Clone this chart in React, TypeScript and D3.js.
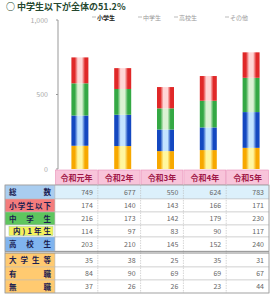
import { useMemo } from "react";
import * as d3 from "d3";

// data
const years = ["令和元年", "令和2年", "令和3年", "令和4年", "令和5年"];
const elementary = [174, 140, 143, 166, 171]; // 小学生以下
const junior = [216, 173, 142, 179, 230]; // 中学生
const juniorFirst = [114, 97, 83, 90, 117]; // 内)1年生
const high = [203, 210, 145, 152, 240]; // 高校生
const college = [35, 38, 25, 35, 31]; // 大学生等
const employed = [84, 90, 69, 69, 67]; // 有職
const unemployed = [37, 26, 26, 23, 44]; // 無職
const totals = [749, 677, 550, 624, 783]; // 総数
const yTicks = [0, 500, 1000];
const legendLabels = ["小学生", "中学生", "高校生", "その他"];

const W = 270;
const H = 303;
const FONT = "'Noto Sans CJK JP', 'Noto Sans', sans-serif";

type Row = { year: string; elem: number; junior: number; high: number; other: number };

const colors: Record<string, [string, string]> = {
  other: ["#f7a800", "#fff7a0"],
  high: ["#1448c0", "#c4e4ff"],
  junior: ["#34a844", "#dcf2d4"],
  elem: ["#e02828", "#ffd6d6"],
};

export default function App() {
  const rows: Row[] = useMemo(
    () =>
      years.map((y, i) => ({
        year: y,
        elem: elementary[i],
        junior: junior[i],
        high: high[i],
        other: college[i] + employed[i] + unemployed[i],
      })),
    []
  );

  const keys = ["other", "high", "junior", "elem"];
  const stacked = d3.stack<Row>().keys(keys)(rows);

  const yScale = d3.scaleLinear().domain([0, 1000]).range([169, 20]);
  const xBars = d3.scaleBand().domain(years).range([58.5, 272.5]);
  const barW = 17;
  const xCols = d3.scaleBand().domain(years).range([55, 269]);

  // table rows
  const tableRows = [
    { label: "総　数", values: totals, bg: "#a9cdf0", cell: "#dcf0fb", y0: 185, y1: 199 },
    { label: "小学生以下", values: elementary, bg: "#f47c7c", cell: "#fff", y0: 199, y1: 212 },
    { label: "中　学　生", values: junior, bg: "#5ec65e", cell: "#fff", y0: 212, y1: 225 },
    { label: "内)1年生", values: juniorFirst, bg: "#f4f25c", cell: "#fff", y0: 225, y1: 237, inset: true },
    { label: "高　校　生", values: high, bg: "#80b4ee", cell: "#fff", y0: 237, y1: 251 },
    { label: "大学生等", values: college, bg: "#ffca70", cell: "#fff", y0: 253, y1: 267 },
    { label: "有　　職", values: employed, bg: "#ffca70", cell: "#fff", y0: 267, y1: 280 },
    { label: "無　　職", values: unemployed, bg: "#ffca70", cell: "#fff", y0: 280, y1: 293 },
  ];
  const labelX0 = 5;
  const labelX1 = 55;
  const tableRight = 269;

  return (
    <div style={{ position: "absolute", left: 0, top: 0 }}>
      <svg width={W} height={H} style={{ display: "block", background: "#fff", fontFamily: FONT }}>
        <defs>
          {keys.map((k) => (
            <linearGradient key={k} id={"g-" + k} x1="0" x2="1" y1="0" y2="0">
              <stop offset="0" stopColor={colors[k][0]} />
              <stop offset="0.2" stopColor={colors[k][0]} />
              <stop offset="0.38" stopColor={colors[k][1]} />
              <stop offset="0.62" stopColor={colors[k][1]} />
              <stop offset="0.8" stopColor={colors[k][0]} />
              <stop offset="1" stopColor={colors[k][0]} />
            </linearGradient>
          ))}
        </defs>

        {/* title */}
        <text x={6} y={9.5} fontSize={9} fontWeight="bold" fill="#25472f">
          ○ 中学生以下が全体の51.2%
        </text>

        {/* legend */}
        {legendLabels.map((l, i) => {
          const lx = [92, 138, 174, 225][i];
          return (
            <g key={l}>
              <line x1={lx} x2={lx + 4} y1={17} y2={17} stroke="#aaa" strokeWidth={0.8} />
              <text x={lx + 5} y={19.5} fontSize={6} fill={i === 0 ? "#222" : "#999"} fontWeight={i === 0 ? "bold" : "normal"}>
                {l}
              </text>
            </g>
          );
        })}

        {/* y axis */}
        <line x1={58} x2={58} y1={yScale(1000)} y2={yScale(0)} stroke="#999" strokeWidth={1} />
        {yTicks.map((t) => (
          <g key={t}>
            <line x1={56} x2={58} y1={yScale(t)} y2={yScale(t)} stroke="#999" />
            <text x={48} y={yScale(t) + 2.5} fontSize={7} fill="#aaa" textAnchor="end">
              {d3.format(",")(t)}
            </text>
          </g>
        ))}

        {/* bars */}
        {stacked.map((layer) =>
          layer.map((d) => {
            const cx = xBars(d.data.year)! + xBars.bandwidth() / 2;
            return (
              <rect
                key={layer.key + d.data.year}
                x={cx - barW / 2}
                width={barW}
                y={yScale(d[1])}
                height={yScale(d[0]) - yScale(d[1])}
                fill={`url(#g-${layer.key})`}
              />
            );
          })
        )}

        {/* table header */}
        {years.map((y) => (
          <g key={y}>
            <rect x={xCols(y)! + 0.5} y={170} width={xCols.bandwidth() - 1} height={14.5} fill="#f8c4da" stroke="#e890b8" strokeWidth={0.6} />
            <text x={xCols(y)! + xCols.bandwidth() / 2} y={180.5} fontSize={8} fontWeight="bold" fill="#a01848" textAnchor="middle">
              {y}
            </text>
          </g>
        ))}

        {/* table body */}
        {tableRows.map((r) => (
          <g key={r.label}>
            <rect x={labelX0} y={r.y0} width={labelX1 - labelX0} height={r.y1 - r.y0} fill={r.inset ? "#fff" : r.bg} stroke="#bbb" strokeWidth={0.5} />
            {r.inset && (
              <rect x={labelX0 + 4} y={r.y0 + 1.5} width={labelX1 - labelX0 - 6} height={r.y1 - r.y0 - 3} fill={r.bg} stroke="#9c9" strokeWidth={0.5} />
            )}
            <text
              x={labelX0 + (r.inset ? 8 : 4)}
              y={(r.y0 + r.y1) / 2 + 3}
              fontSize={7.5}
              fontWeight="bold"
              fill="#1a2050"
              textLength={r.inset ? 38 : 42}
              lengthAdjust="spacing"
            >
              {r.label}
            </text>
            <rect x={labelX1} y={r.y0} width={tableRight - labelX1} height={r.y1 - r.y0} fill={r.cell} stroke="#bbb" strokeWidth={0.5} />
            {r.values.map((v, i) => (
              <text key={i} x={xCols(years[i])! + xCols.bandwidth() - 5} y={(r.y0 + r.y1) / 2 + 2.5} fontSize={7} fill="#666" textAnchor="end">
                {v}
              </text>
            ))}
          </g>
        ))}

        {/* column separators */}
        {years.slice(1).map((y) => (
          <line key={y} x1={xCols(y)} x2={xCols(y)} y1={185} y2={293} stroke="#bbb" strokeWidth={0.6} strokeDasharray="1.5,1" />
        ))}
        {/* double separator */}
        <line x1={labelX0} x2={tableRight} y1={251.5} y2={251.5} stroke="#888" strokeWidth={0.8} />
        <line x1={labelX0} x2={tableRight} y1={253} y2={253} stroke="#888" strokeWidth={0.8} />
        <rect x={labelX0} y={185} width={tableRight - labelX0} height={108} fill="none" stroke="#999" strokeWidth={0.7} />
      </svg>
    </div>
  );
}
